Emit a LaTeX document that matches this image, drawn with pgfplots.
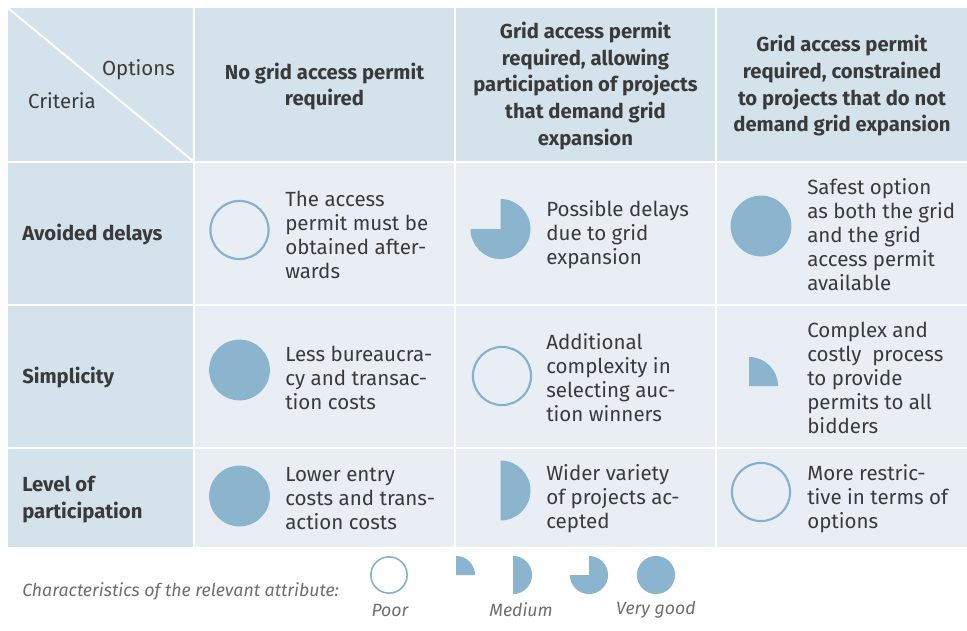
\documentclass[border=0pt]{standalone}
\usepackage{pgfplots}
\pgfplotsset{compat=1.18}
\usepackage{fontspec}
\setmainfont{Fira Sans}
\definecolor{hdr}{HTML}{D4E2EC}
\definecolor{body}{HTML}{E9EEF5}
\definecolor{ball}{HTML}{8BB5CF}
\definecolor{ring}{HTML}{82B2CD}
\definecolor{txt}{HTML}{3A3A3A}
\definecolor{leg}{HTML}{6E6E6E}
% Harvey-ball marks
\pgfdeclareplotmark{hb0}{\pgfpathcircle{\pgfpointorigin}{\pgfplotmarksize}\pgfusepathqstroke}
\pgfdeclareplotmark{hb1}{\pgfpathmoveto{\pgfpointorigin}\pgfpathlineto{\pgfpoint{0pt}{\pgfplotmarksize}}\pgfpatharc{90}{0}{\pgfplotmarksize}\pgfpathclose\pgfusepathqfill}
\pgfdeclareplotmark{hb2}{\pgfpathmoveto{\pgfpoint{0pt}{\pgfplotmarksize}}\pgfpatharc{90}{-90}{\pgfplotmarksize}\pgfpathclose\pgfusepathqfill}
\pgfdeclareplotmark{hb3}{\pgfpathmoveto{\pgfpointorigin}\pgfpathlineto{\pgfpoint{0pt}{\pgfplotmarksize}}\pgfpatharc{90}{-180}{\pgfplotmarksize}\pgfpathclose\pgfusepathqfill}
\pgfdeclareplotmark{hb4}{\pgfpathcircle{\pgfpointorigin}{\pgfplotmarksize}\pgfusepathqfill}
\newcommand{\cell}[5]{\addplot[fill=#5,draw=none] coordinates {(#1,#3) (#2,#3) (#2,#4) (#1,#4)} -- cycle;}
\tikzset{
  hf/.style={font=\fontsize{15.2}{20}\selectfont\bfseries, text=txt, align=center, inner sep=0pt},
  bf/.style={font=\fontsize{15.4}{18}\selectfont, text=txt, align=left, inner sep=0pt, anchor=west},
  rf/.style={font=\fontsize{15.2}{20.3}\selectfont\bfseries, text=txt, align=left, inner sep=0pt, anchor=west},
  lf/.style={font=\fontsize{13.3}{15}\selectfont\itshape, text=leg, inner sep=0pt},
}
\begin{document}
\begin{tikzpicture}
\begin{axis}[
  scale only axis, width=725.25pt, height=473.25pt,
  xmin=0, xmax=967, ymin=0, ymax=631, y dir=reverse,
  hide axis, clip=false,
]
\addplot[draw=none] coordinates {(0,0) (967,631)};
% header row
\cell{8}{193}{8}{161}{hdr}
\cell{195}{454}{8}{161}{hdr}
\cell{456}{715}{8}{161}{hdr}
\cell{717}{967}{8}{161}{hdr}
% first column
\cell{8}{193}{163}{304}{hdr}
\cell{8}{193}{306}{447}{hdr}
\cell{8}{193}{449}{547}{hdr}
% body cells
\cell{195}{454}{163}{304}{body}
\cell{456}{715}{163}{304}{body}
\cell{717}{967}{163}{304}{body}
\cell{195}{454}{306}{447}{body}
\cell{456}{715}{306}{447}{body}
\cell{717}{967}{306}{447}{body}
\cell{195}{454}{449}{547}{body}
\cell{456}{715}{449}{547}{body}
\cell{717}{967}{449}{547}{body}
% diagonal
\addplot[white, line width=1.5pt] coordinates {(8,8) (193,161)};
% Harvey balls in table
\addplot[only marks, mark=hb0, mark size=21.8pt, mark options={draw=ring, line width=1.6pt, fill=none}] coordinates {(239.5,230) (502,376) (761,492)};
\addplot[only marks, mark=hb1, mark size=21.8pt, mark options={fill=ball, draw=none}] coordinates {(749,386)};
\addplot[only marks, mark=hb2, mark size=22.5pt, mark options={fill=ball, draw=none}] coordinates {(500.5,490.5)};
\addplot[only marks, mark=hb3, mark size=22.5pt, mark options={fill=ball, draw=none}] coordinates {(500.5,229)};
\addplot[only marks, mark=hb4, mark size=22.8pt, mark options={fill=ball, draw=none}] coordinates {(761,226) (239.5,370) (239.5,496)};
% legend balls
\addplot[only marks, mark=hb0, mark size=13.6pt, mark options={draw=ring, line width=1.2pt, fill=none}] coordinates {(389,575)};
\addplot[only marks, mark=hb1, mark size=14.3pt, mark options={fill=ball, draw=none}] coordinates {(456,575)};
\addplot[only marks, mark=hb2, mark size=14.3pt, mark options={fill=ball, draw=none}] coordinates {(513,575)};
\addplot[only marks, mark=hb3, mark size=14.3pt, mark options={fill=ball, draw=none}] coordinates {(589,575)};
\addplot[only marks, mark=hb4, mark size=14.3pt, mark options={fill=ball, draw=none}] coordinates {(656,575)};
% header texts
\node[font=\fontsize{15.3}{20}\selectfont, text=txt, inner sep=0pt] at (axis cs:138.5,70) {Options};
\node[font=\fontsize{15.3}{20}\selectfont, text=txt, inner sep=0pt] at (axis cs:62,101) {Criteria};
\node[hf] at (axis cs:324.5,86.5) {No grid access permit\\required};
\node[hf] at (axis cs:585.5,86) {Grid access permit\\required, allowing\\participation of projects\\that demand grid\\expansion};
\node[hf] at (axis cs:842,86) {Grid access permit\\required, constrained\\to projects that do not\\demand grid expansion};
% row labels
\node[rf] at (axis cs:22,235) {Avoided delays};
\node[rf] at (axis cs:22,378) {Simplicity};
\node[rf] at (axis cs:22,499.5) {Level of\\participation};
% body texts
\node[bf] at (axis cs:285,235) {The access\\permit must be\\obtained after-\\wards};
\node[bf] at (axis cs:546,235) {Possible delays\\due to grid\\expansion};
\node[bf] at (axis cs:807,235) {Safest option\\as both the grid\\and the grid\\access permit\\available};
\node[bf] at (axis cs:285,378) {Less bureaucra-\\cy and transac-\\tion costs};
\node[bf] at (axis cs:546,378) {Additional\\complexity in\\selecting auc-\\tion winners};
\node[bf] at (axis cs:807,378) {Complex and\\costly~ process\\to provide\\permits to all\\bidders};
\node[bf] at (axis cs:285,499) {Lower entry\\costs and trans-\\action costs};
\node[bf] at (axis cs:546,499) {Wider variety\\of projects ac-\\cepted};
\node[bf] at (axis cs:807,499) {More restric-\\tive in terms of\\options};
% legend texts
\node[lf, anchor=west] at (axis cs:22,591) {Characteristics of the relevant attribute:};
\node[lf] at (axis cs:390,610) {Poor};
\node[lf] at (axis cs:521,610) {Medium};
\node[lf] at (axis cs:656,610) {Very good};
\end{axis}
\end{tikzpicture}
\end{document}
